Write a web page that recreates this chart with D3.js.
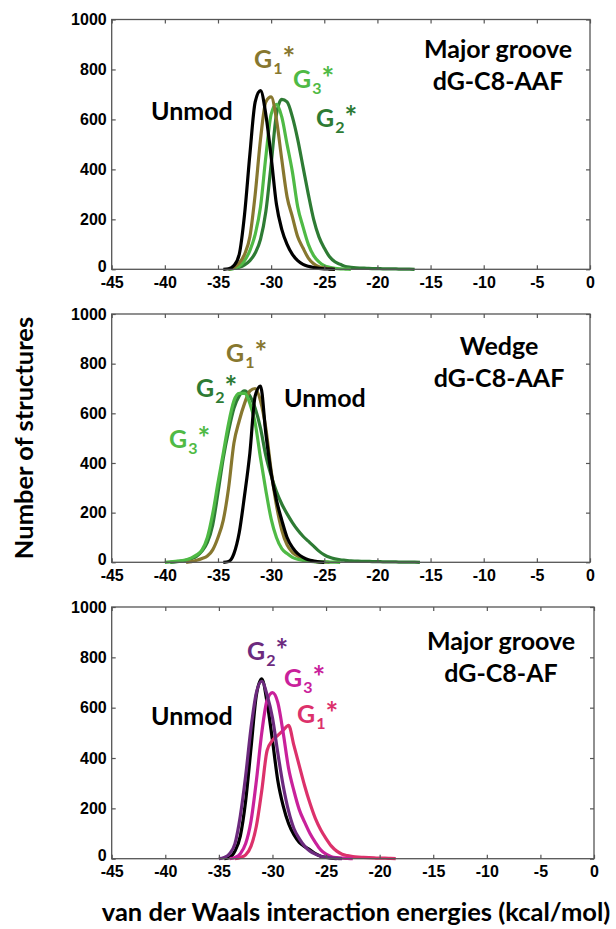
<!DOCTYPE html>
<html><head><meta charset="utf-8">
<script src="https://cdn.jsdelivr.net/npm/d3@7"></script>
<style>body{margin:0;background:#fff}svg{display:block}</style>
</head><body><svg id="c" width="616" height="929"></svg>
<script>
// ---------- DATA ----------
const energyBins = [-40,-39.5,-39,-38.5,-38,-37.5,-37,-36.5,-36,-35.5,-35,-34.5,-34,-33.5,-33,-32.5,-32,-31.5,-31,-30.5,-30,-29.5,-29,-28.5,-28,-27.5,-27,-26.5,-26,-25.5,-25,-24.5,-24,-23.5,-23,-22.5,-22,-21.5,-21,-20.5,-20,-19.5,-19,-18.5,-18,-17.5,-17,-16.5,-16];
const xTicks = [-45,-40,-35,-30,-25,-20,-15,-10,-5,0];
const yTicks = [0,200,400,600,800,1000];

// Panel 1: Major groove dG-C8-AAF
const p1Unmod = [0,0,0,0,0,0,0,0,0,0,0,0, 2,15,60,220,460,670,715,620,450,260,160,100,60,35,20,12,7,4,2,1,0, 0,0,0,0,0,0,0,0,0,0,0,0,0,0,0,0];
const p1G1    = [0,0,0,0,0,0,0,0,0,0,0,0, 0,8,25,60,130,300,520,670,690,600,440,290,210,130,85,45,22,10,5,2,0, 0,0,0,0,0,0,0,0,0,0,0,0,0,0,0,0];
const p1G3    = [0,0,0,0,0,0,0,0,0,0,0,0, 0,3,12,35,75,140,250,450,620,660,610,500,390,250,170,100,55,30,15,8,4,2,1,0, 0,0,0,0,0,0,0,0,0,0,0,0,0];
const p1G2    = [0,0,0,0,0,0,0,0,0,0,0,0, 0,3,8,18,35,65,120,230,420,620,680,670,610,520,410,300,200,130,85,50,30,20,11,8,6,5,4,3,3,2,2,2,1,1,1,0,0];

// Panel 2: Wedge dG-C8-AAF
const p2Unmod = [0,0,0,0,0,0,0,0,0,0,0,0, 3,35,120,270,440,670,710,520,360,250,170,100,60,35,20,10,5,2,0, 0,0,0,0,0,0,0,0,0,0,0,0,0,0,0,0,0,0];
const p2G1    = [0,0,0,0,0,3,8,15,25,50,100,170,300,480,570,640,690,700,650,540,370,230,130,70,40,25,15,8,4,2,1,0, 0,0,0,0,0,0,0,0,0,0,0,0,0,0,0,0,0];
const p2G3    = [0,2,4,6,10,18,30,50,100,195,320,440,560,650,680,680,640,560,420,290,175,100,55,35,20,12,8,5,3,2,2,1,1,0, 0,0,0,0,0,0,0,0,0,0,0,0,0,0,0];
const p2G2    = [0,0,2,5,8,15,25,45,80,150,280,420,530,620,670,690,670,620,540,430,350,285,235,195,160,130,105,85,65,45,30,20,14,10,8,6,5,4,4,3,3,2,2,2,1,1,1,1,0];

// Panel 3: Major groove dG-C8-AF
const p3Unmod = [0,0,0,0,0,0,0,0,0,0,0,0, 5,30,90,230,440,650,715,620,470,310,210,140,95,65,48,35,20,10,5,2,0, 0,0,0,0,0,0,0,0,0,0,0,0,0,0,0,0];
const p3G2    = [0,0,0,0,0,0,0,0,0,0,0, 5,20,60,170,330,520,660,705,650,560,420,290,190,120,80,50,30,18,10,6,3,1,0, 0,0,0,0,0,0,0,0,0,0,0,0,0,0,0];
const p3G3    = [0,0,0,0,0,0,0,0,0,0,0,0, 0,5,20,60,150,310,500,630,660,620,500,360,270,195,145,100,65,35,18,8,4,2,1,0, 0,0,0,0,0,0,0,0,0,0,0,0,0];
const p3G1    = [0,0,0,0,0,0,0,0,0,0,0,0,0,0, 5,15,50,130,270,430,470,490,510,530,450,370,290,220,160,115,80,50,30,18,12,8,6,5,4,3,2,2,1,0,0,0,0,0,0];

const axisTitleY = "Number of structures";
const axisTitleX = "van der Waals interaction energies (kcal/mol)";

// ---------- LAYOUT ----------
const C = {unmod:"#000000", olive:"#87772f", lgreen:"#4fba45", dgreen:"#2e7b34",
           purple:"#6c2a7e", magenta:"#c9219b", crimson:"#dc316b"};

const panels = [
  {box:{l:111.7,r:590,t:19.5,b:269.3},
   series:[{c:p1G2,col:C.dgreen},{c:p1G3,col:C.lgreen},{c:p1G1,col:C.olive},{c:p1Unmod,col:C.unmod}],
   labels:[{t:"Unmod",x:151,y:120,col:C.unmod},
           {g:"1",x:254,y:68,col:C.olive},{g:"3",x:293,y:88,col:C.lgreen},{g:"2",x:316,y:127,col:C.dgreen}],
   title:{lines:["Major groove","dG-C8-AAF"],x:498,y:58}},
  {box:{l:111.7,r:590,t:314,b:562.3},
   series:[{c:p2G2,col:C.dgreen},{c:p2G1,col:C.olive},{c:p2G3,col:C.lgreen},{c:p2Unmod,col:C.unmod}],
   labels:[{t:"Unmod",x:284,y:407,col:C.unmod},
           {g:"1",x:226,y:362,col:C.olive},{g:"2",x:196,y:397,col:C.dgreen},{g:"3",x:169,y:448,col:C.lgreen}],
   title:{lines:["Wedge","dG-C8-AAF"],x:499,y:355}},
  {box:{l:111.7,r:594,t:607,b:858.7},
   series:[{c:p3Unmod,col:C.unmod},{c:p3G1,col:C.crimson},{c:p3G3,col:C.magenta},{c:p3G2,col:C.purple}],
   labels:[{t:"Unmod",x:151,y:725,col:C.unmod},
           {g:"2",x:247,y:660,col:C.purple},{g:"3",x:284,y:687,col:C.magenta},{g:"1",x:297,y:723,col:C.crimson}],
   title:{lines:["Major groove","dG-C8-AF"],x:501,y:650}}
];

const svg = d3.select("#c");
const LFONT = "Lato, 'Open Sans', sans-serif";
const TFONT = "'Liberation Sans', Arial, sans-serif";

panels.forEach(p => {
  const b = p.box;
  const x = d3.scaleLinear().domain([-45,0]).range([b.l,b.r]);
  const y = d3.scaleLinear().domain([0,1000]).range([b.b,b.t]);
  const g = svg.append("g");

  // curves
  const line = d3.line().x(d=>x(d[0])).y(d=>y(d[1])).curve(d3.curveMonotoneX);
  p.series.forEach(s => {
    let first = s.c.findIndex(v=>v>0), last = s.c.length-1;
    while (last>0 && s.c[last]===0) last--;
    first = Math.max(0, first-1); last = Math.min(s.c.length-1, last+1);
    const pts = [];
    for (let i=first;i<=last;i++) pts.push([energyBins[i], s.c[i]]);
    g.append("path").attr("d", line(pts)).attr("fill","none")
      .attr("stroke", s.col).attr("stroke-width", 3.2).attr("stroke-linejoin","round");
  });

  // frame
  g.append("rect").attr("x",b.l).attr("y",b.t).attr("width",b.r-b.l).attr("height",b.b-b.t)
    .attr("fill","none").attr("stroke","#555").attr("stroke-width",1.3);

  const styleAxis = sel => {
    sel.select(".domain").remove();
    sel.selectAll(".tick line").attr("stroke","#555").attr("stroke-width",1.2);
    sel.selectAll("text").attr("font-family",TFONT).attr("font-weight","bold")
      .attr("font-size",16).attr("fill","#000");
  };
  const fmt = d => String(d);
  g.append("g").attr("transform",`translate(0,${b.b})`)
    .call(d3.axisBottom(x).tickValues(xTicks).tickSize(-4).tickPadding(7).tickFormat(fmt))
    .call(styleAxis);
  g.append("g").attr("transform",`translate(0,${b.t})`)
    .call(d3.axisTop(x).tickValues(xTicks).tickSize(-4).tickFormat(""))
    .call(styleAxis);
  g.append("g").attr("transform",`translate(${b.l},0)`)
    .call(d3.axisLeft(y).tickValues(yTicks).tickSize(-4).tickPadding(5).tickFormat(fmt))
    .call(styleAxis)
    .call(sel => sel.selectAll(".tick text").attr("dy", d => d===0 ? "0.12em" : "0.32em"));
  g.append("g").attr("transform",`translate(${b.r},0)`)
    .call(d3.axisRight(y).tickValues(yTicks).tickSize(-4).tickFormat(""))
    .call(styleAxis);

  // labels
  p.labels.forEach(l => {
    const t = g.append("text").attr("x",l.x).attr("y",l.y).attr("fill",l.col)
      .attr("font-family",LFONT).attr("font-weight","bold").attr("font-size",25);
    if (l.t) { t.text(l.t); }
    else {
      t.append("tspan").text("G");
      t.append("tspan").attr("font-size",16).attr("dy",6).attr("dx",1).text(l.g);
      t.append("tspan").attr("font-size",30).attr("dy",-5).attr("dx",0).text("*");
    }
  });
  const tt = g.append("text").attr("text-anchor","middle").attr("font-family",LFONT)
    .attr("font-weight","bold").attr("font-size",25).attr("fill","#000");
  p.title.lines.forEach((s,i)=>{
    tt.append("tspan").attr("x",p.title.x).attr("y",p.title.y+i*32).text(s);
  });
});

svg.append("text").attr("transform","translate(33,438) rotate(-90)").attr("text-anchor","middle")
  .attr("font-family",LFONT).attr("font-weight","bold").attr("font-size",25.5).text(axisTitleY);
svg.append("text").attr("x",356).attr("y",921).attr("text-anchor","middle")
  .attr("font-family",LFONT).attr("font-weight","bold").attr("font-size",25.5).text(axisTitleX);
</script></body></html>
